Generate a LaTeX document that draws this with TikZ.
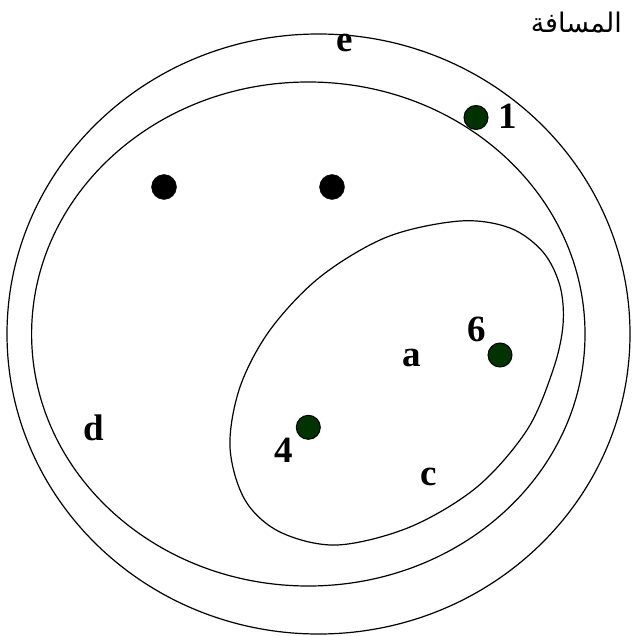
\documentclass[tikz,border=0pt]{standalone}
\usepackage{fontspec}
\setmainfont{Liberation Serif}
\newfontfamily\arabicfont[Script=Arabic]{DejaVu Sans}
\TeXXeTstate=1
\definecolor{dotgreen}{RGB}{0,51,0}
\tikzset{
  ring/.style={draw=black, line width=1.2pt},
  blackdot/.style={circle, fill=black, draw=black, minimum size=25pt, inner sep=0pt},
  greendot/.style={circle, fill=dotgreen, draw=black, line width=1pt, minimum size=24pt, inner sep=0pt},
  lbl/.style={font=\fontsize{37}{40}\selectfont\bfseries, inner sep=0pt, anchor=base}
}
\begin{document}
\begin{tikzpicture}[x=1pt,y=-1pt]
\useasboundingbox (0,0) rectangle (631,636);
% outer and inner rings
\draw[ring] (318.5,334) ellipse [x radius=311.5, y radius=300];
\draw[ring] (308.3,334) ellipse [x radius=276.7, y radius=252];
% egg-shaped inner region
\draw[ring] plot[smooth cycle, tension=0.55] coordinates {
  (460,221) (510,228) (543,252) (560,286) (563,325) (553,370) (527,430)
  (477,487) (410,527) (337,545) (280,532) (245,500) (230,447) (240,387)
  (270,330) (320,277) (387,237)};
% dots
\node[blackdot] (b1) at (164,187) {};
\node[blackdot] (b2) at (332,187) {};
\node[greendot] (g1) at (476,117.5) {};
\node[greendot] (g6) at (500,355) {};
\node[greendot] (g4) at (308.3,427.3) {};
% labels
\node[lbl] (le) at (345,51.7) {e};
\node[lbl] (l1) at (508,128.3) {1};
\node[lbl] (l6) at (476.7,341.7) {6};
\node[lbl] (la) at (411.7,366.7) {a};
\node[lbl] (ld) at (93.3,440.7) {d};
\node[lbl] (l4) at (284,462.7) {4};
\node[lbl] (lc) at (429,485.7) {c};
\node[anchor=base east, inner sep=0pt, font=\fontsize{27}{30}\selectfont] (title) at (622,33) {\arabicfont\beginR المسافة\endR};
\end{tikzpicture}
\end{document}
